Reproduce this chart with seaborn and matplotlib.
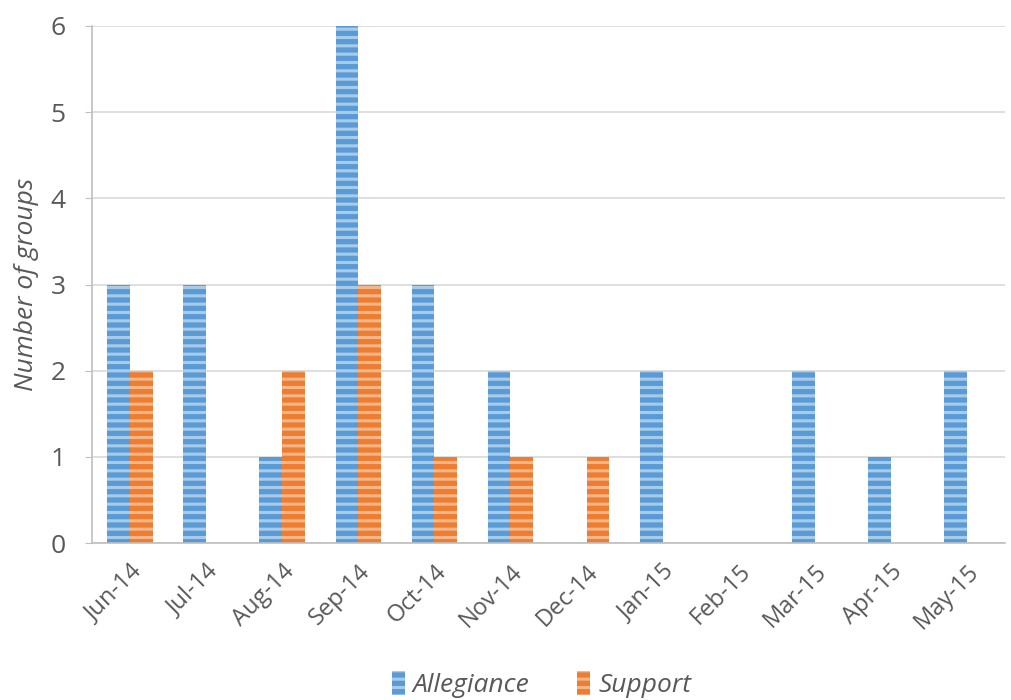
import pandas as pd
import matplotlib.pyplot as plt
import seaborn as sns
from matplotlib.patches import Patch

# Data
months = ["Jun-14", "Jul-14", "Aug-14", "Sep-14", "Oct-14", "Nov-14",
          "Dec-14", "Jan-15", "Feb-15", "Mar-15", "Apr-15", "May-15"]
allegiance = [3, 3, 1, 6, 3, 2, 0, 2, 0, 2, 1, 2]
support = [2, 0, 2, 3, 1, 1, 1, 0, 0, 0, 0, 0]
series = ["Allegiance", "Support"]

BLUE, BLUE_LIGHT = "#5B9BD5", "#A9CBEA"
ORANGE, ORANGE_LIGHT = "#ED7D31", "#F5B68A"
GRAY = "#595959"

df = pd.DataFrame({
    "month": months * 2,
    "value": allegiance + support,
    "series": [series[0]] * len(months) + [series[1]] * len(months),
})

sns.set_style("white")
plt.rcParams["font.family"] = ["Open Sans", "DejaVu Sans"]
plt.rcParams["hatch.linewidth"] = 2.2

fig = plt.figure(figsize=(10.12, 7), dpi=100)
ax = fig.add_axes([0.091, 0.224, 0.902, 0.739])

sns.barplot(data=df, x="month", y="value", hue="series", order=months,
            hue_order=series, palette=[BLUE, ORANGE], width=0.6,
            saturation=1, legend=False, ax=ax)

# striped fill like the original
for cont, light in zip(ax.containers, [BLUE_LIGHT, ORANGE_LIGHT]):
    for bar in cont:
        bar.set_hatch("--")
        bar.set_edgecolor(light)
        bar.set_linewidth(0)

ax.set_ylim(0, 6)
ax.set_xlim(-0.5, len(months) - 0.5)
ax.set_yticks(range(0, 7))
ax.yaxis.grid(True, color="#D9D9D9", linewidth=1.2)
ax.set_axisbelow(True)
for s in ["top", "right"]:
    ax.spines[s].set_visible(False)
for s in ["left", "bottom"]:
    ax.spines[s].set_color("#BFBFBF")
    ax.spines[s].set_linewidth(1.2)

ax.tick_params(axis="y", labelsize=19, colors=GRAY, length=5, color="#BFBFBF",
               left=True, pad=14)
ax.tick_params(axis="x", labelsize=17, colors=GRAY, length=0, pad=12)
plt.setp(ax.get_xticklabels(), rotation=45, ha="right", rotation_mode="anchor")

ax.set_xlabel("")
ax.set_ylabel("Number of groups", fontsize=19, color=GRAY, style="italic", labelpad=8)

handles = [Patch(facecolor=BLUE, edgecolor=BLUE_LIGHT, hatch="--", linewidth=0),
           Patch(facecolor=ORANGE, edgecolor=ORANGE_LIGHT, hatch="--", linewidth=0)]
leg = fig.legend(handles, series, loc="center", bbox_to_anchor=(0.535, 0.022),
                 ncol=2, frameon=False, handlelength=0.5, handleheight=1.0,
                 handletextpad=0.3, columnspacing=1.8,
                 prop={"size": 19, "style": "italic"})
for t in leg.get_texts():
    t.set_color(GRAY)

fig.savefig("out.png", dpi=100)
